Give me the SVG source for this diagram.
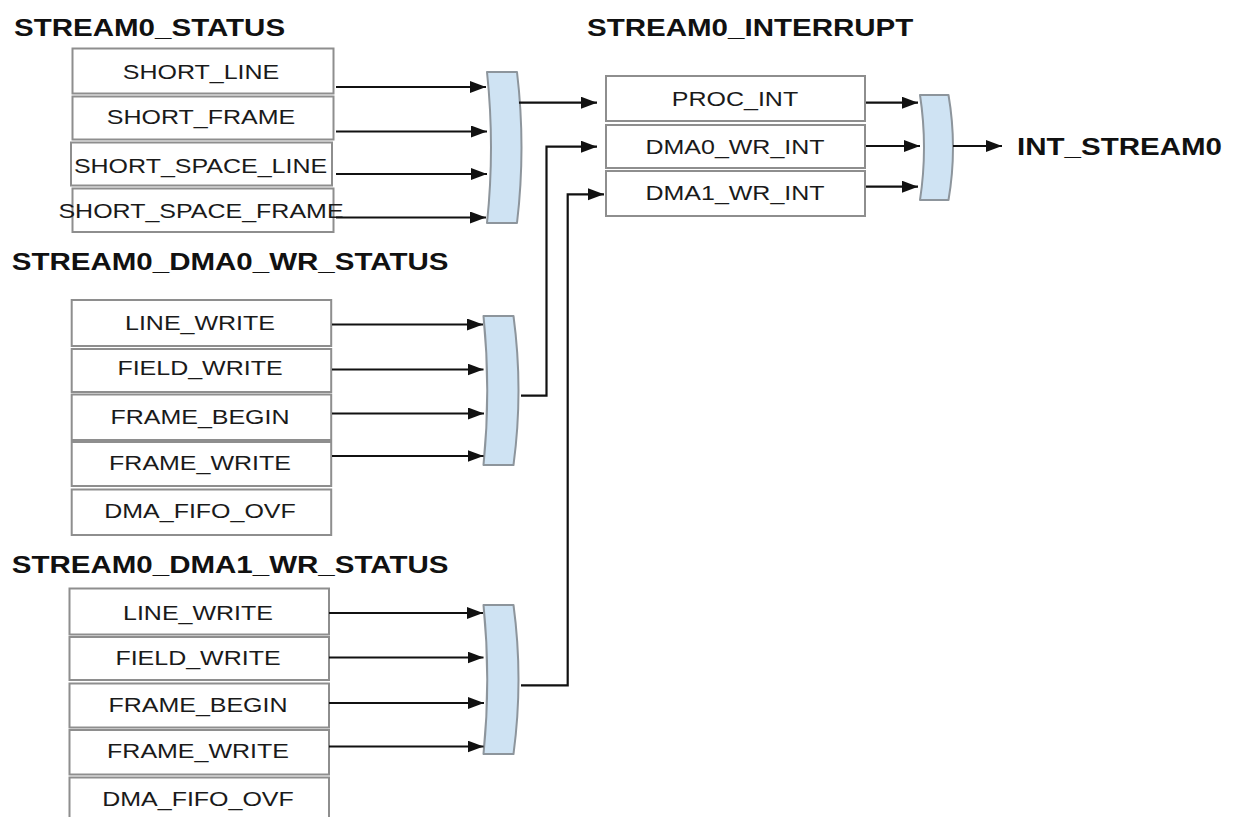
<svg xmlns="http://www.w3.org/2000/svg" width="1234" height="817" viewBox="0 0 1234 817">
<style>
.bx{fill:#fff;stroke:#8e8e8e;stroke-width:2}
.gt{fill:#cfe3f3;stroke:#8d959c;stroke-width:2;stroke-linejoin:round}
.t{font-family:"Liberation Sans",Arial,sans-serif;font-size:21px;fill:#1a1a1a;text-anchor:middle}
.h{font-family:"Liberation Sans",Arial,sans-serif;font-size:24.2px;font-weight:bold;fill:#111}
.w{fill:none;stroke:#111;stroke-width:2.2}
.a{marker-end:url(#ah)}
</style>
<defs>
<marker id="ah" markerUnits="userSpaceOnUse" markerWidth="17" markerHeight="13" refX="16" refY="6" orient="auto">
<path d="M0,0 L16,6 L0,12 Z" fill="#111"/>
</marker>
</defs>
<rect width="1234" height="817" fill="#fff"/>

<g id="stream0_status">
<text class="h" transform="translate(14,36) scale(1.22,1)">STREAM0_STATUS</text>
<rect class="bx" x="72.5" y="48.5" width="261" height="45"/>
<rect class="bx" x="72.5" y="96.5" width="261" height="43"/>
<rect class="bx" x="71" y="142.5" width="261" height="43"/>
<rect class="bx" x="72.5" y="188.5" width="261" height="43.5"/>
<text class="t" transform="translate(201,78.8) scale(1.19,1)">SHORT_LINE</text>
<text class="t" transform="translate(201,124.2) scale(1.19,1)">SHORT_FRAME</text>
<text class="t" transform="translate(200.5,172.5) scale(1.19,1)">SHORT_SPACE_LINE</text>
<text class="t" transform="translate(201,217.5) scale(1.19,1)">SHORT_SPACE_FRAME</text>
</g>

<g id="stream0_dma0_wr_status">
<text class="h" transform="translate(11.7,270) scale(1.22,1)">STREAM0_DMA0_WR_STATUS</text>
<rect class="bx" x="71.7" y="300" width="259.5" height="46"/>
<rect class="bx" x="71.7" y="349" width="259.5" height="43"/>
<rect class="bx" x="71.7" y="394.5" width="259.5" height="45.5"/>
<rect class="bx" x="71.7" y="442" width="259.5" height="44"/>
<rect class="bx" x="71.7" y="489.5" width="259.5" height="45.5"/>
<text class="t" transform="translate(200,330.2) scale(1.19,1)">LINE_WRITE</text>
<text class="t" transform="translate(200,375.2) scale(1.19,1)">FIELD_WRITE</text>
<text class="t" transform="translate(200,424.2) scale(1.19,1)">FRAME_BEGIN</text>
<text class="t" transform="translate(200,469.5) scale(1.19,1)">FRAME_WRITE</text>
<text class="t" transform="translate(200,518) scale(1.19,1)">DMA_FIFO_OVF</text>
</g>

<g id="stream0_dma1_wr_status">
<text class="h" transform="translate(11.7,573) scale(1.22,1)">STREAM0_DMA1_WR_STATUS</text>
<rect class="bx" x="69.5" y="588.5" width="259.5" height="46"/>
<rect class="bx" x="69.5" y="637" width="259.5" height="43"/>
<rect class="bx" x="69.5" y="683.5" width="259.5" height="44"/>
<rect class="bx" x="69.5" y="730" width="259.5" height="44.5"/>
<rect class="bx" x="69.5" y="777.5" width="259.5" height="46"/>
<text class="t" transform="translate(198,619.7) scale(1.19,1)">LINE_WRITE</text>
<text class="t" transform="translate(198,664.5) scale(1.19,1)">FIELD_WRITE</text>
<text class="t" transform="translate(198,711.7) scale(1.19,1)">FRAME_BEGIN</text>
<text class="t" transform="translate(198,758.2) scale(1.19,1)">FRAME_WRITE</text>
<text class="t" transform="translate(198,805.8) scale(1.19,1)">DMA_FIFO_OVF</text>
</g>

<g id="stream0_interrupt">
<text class="h" transform="translate(587,36) scale(1.22,1)">STREAM0_INTERRUPT</text>
<rect class="bx" x="606" y="76" width="259" height="45"/>
<rect class="bx" x="606" y="125" width="259" height="43"/>
<rect class="bx" x="606" y="171" width="259" height="45"/>
<text class="t" transform="translate(735,105.8) scale(1.19,1)">PROC_INT</text>
<text class="t" transform="translate(735,153.8) scale(1.19,1)">DMA0_WR_INT</text>
<text class="t" transform="translate(735,199.5) scale(1.19,1)">DMA1_WR_INT</text>
</g>

<g id="or_status">
<path class="gt" d="M487,72 H517 Q526,147.5 517,223 H487 Q495,147.5 487,72 Z"/>
</g>
<g id="or_dma0">
<path class="gt" d="M483.5,316 H513.5 Q523.5,390.5 513.5,465 H483.5 Q491,390.5 483.5,316 Z"/>
</g>
<g id="or_dma1">
<path class="gt" d="M483.5,605 H513.5 Q523.5,679.5 513.5,754 H483.5 Q491,679.5 483.5,605 Z"/>
</g>
<g id="or_int">
<path class="gt" d="M920,95 H948.5 Q957.5,147.5 948.5,200 H920 Q928,147.5 920,95 Z"/>
</g>

<g id="int_stream0">
<text class="h" transform="translate(1017,155) scale(1.22,1)">INT_STREAM0</text>
</g>

<g id="connectors">
<path class="w a" d="M336,87 H486"/>
<path class="w a" d="M336,131.5 H487"/>
<path class="w a" d="M336,174 H487"/>
<path class="w a" d="M336,217.5 H486"/>
<path class="w a" d="M519,102.7 H597"/>

<path class="w a" d="M332,324.5 H483"/>
<path class="w a" d="M332,369.5 H483.5"/>
<path class="w a" d="M332,413.5 H484"/>
<path class="w a" d="M332,456 H483.5"/>
<path class="w a" d="M521,395.7 H546.5 V146.7 H597"/>

<path class="w a" d="M329,613 H483"/>
<path class="w a" d="M329,657.5 H483.5"/>
<path class="w a" d="M329,703 H484"/>
<path class="w a" d="M329,746.5 H483.5"/>
<path class="w a" d="M521,685.3 H567.7 V194.3 H604"/>

<path class="w a" d="M866,102.7 H918"/>
<path class="w a" d="M866,146 H920"/>
<path class="w a" d="M866,186.7 H918"/>
<path class="w a" d="M953,146 H1002"/>
</g>
</svg>
